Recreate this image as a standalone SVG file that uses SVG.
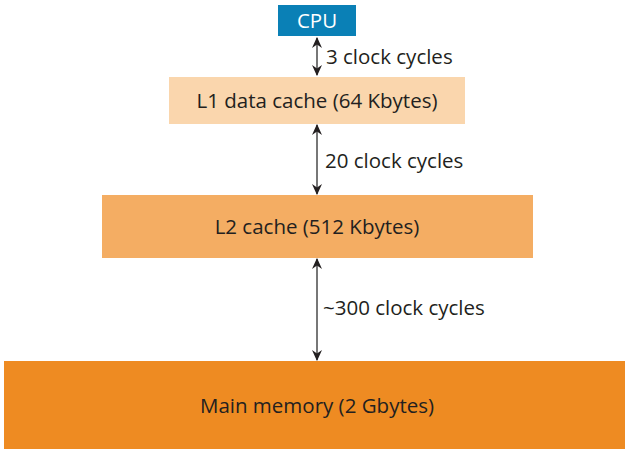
<svg xmlns="http://www.w3.org/2000/svg" width="625" height="449" viewBox="0 0 625 449">
<defs>
<style>
text{font-family:"Open Sans","Liberation Sans",sans-serif;font-size:20.5px;fill:#231f20}
.c{text-anchor:middle}
.conn line{stroke:#555;stroke-width:1.6}
</style>
<marker id="ah" viewBox="0 0 10 10" refX="9" refY="5" markerWidth="11" markerHeight="10" orient="auto-start-reverse" markerUnits="userSpaceOnUse" preserveAspectRatio="none">
<path d="M0,0 L10,5 L0,10 L3,5 z" fill="#231f20"/>
</marker>
</defs>
<rect width="625" height="449" fill="#fff"/>
<g id="cpu">
<rect x="278" y="5" width="78" height="31" fill="#0a80b6"/>
<text x="317" y="28" class="c" style="fill:#fff">CPU</text>
</g>
<g id="l1">
<rect x="169" y="77" width="296" height="47" fill="#fad6ad"/>
<text x="317" y="108" class="c">L1 data cache (64 Kbytes)</text>
</g>
<g id="l2">
<rect x="102" y="195" width="431" height="63" fill="#f4ad63"/>
<text x="317" y="234" class="c">L2 cache (512 Kbytes)</text>
</g>
<g id="main">
<rect x="4" y="361" width="621" height="88" fill="#ee8b22"/>
<text x="317" y="413" class="c">Main memory (2 Gbytes)</text>
</g>
<g class="conn">
<line x1="317" y1="38" x2="317" y2="75" marker-start="url(#ah)" marker-end="url(#ah)"/>
<line x1="317" y1="125" x2="317" y2="194" marker-start="url(#ah)" marker-end="url(#ah)"/>
<line x1="317" y1="259" x2="317" y2="360" marker-start="url(#ah)" marker-end="url(#ah)"/>
</g>
<text x="326" y="64">3 clock cycles</text>
<text x="325" y="168">20 clock cycles</text>
<text x="323" y="315">~300 clock cycles</text>
</svg>
